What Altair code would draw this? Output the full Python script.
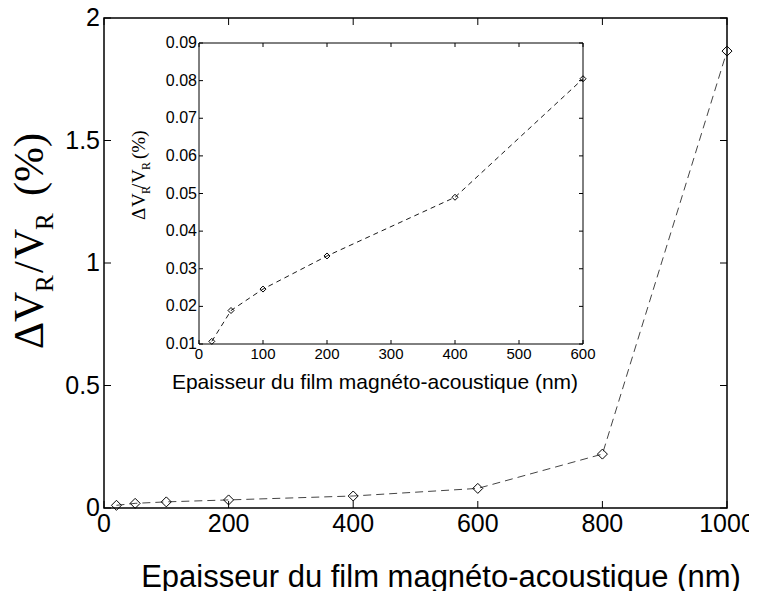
import altair as alt
import pandas as pd

# ---- data ----
thickness_main = [20, 50, 100, 200, 400, 600, 800, 1000]
dv_main = [0.011, 0.019, 0.025, 0.033, 0.049, 0.080, 0.22, 1.865]
thickness_inset = [20, 50, 100, 200, 400, 600]
dv_inset = [0.0107, 0.0189, 0.0246, 0.0334, 0.0490, 0.0805]
main_xticks = [0, 200, 400, 600, 800, 1000]
main_yticks = [0, 0.5, 1, 1.5, 2]
inset_xticks = [0, 100, 200, 300, 400, 500, 600]
inset_yticks = [0.01, 0.02, 0.03, 0.04, 0.05, 0.06, 0.07, 0.08, 0.09]
x_title = "Epaisseur du film magnéto-acoustique (nm)"

# ---- layout (pixels) ----
W, H = 623, 490
IX0, IX1, IY0, IY1 = 95, 479, 25, 326
SANS = "Liberation Sans"
SERIF = "Liberation Serif"

main_df = pd.DataFrame({"x": thickness_main, "y": dv_main})
inset_df = pd.DataFrame({"x": thickness_inset, "y": dv_inset})

mx = alt.Scale(domain=[0, 1000], nice=False, zero=False)
my = alt.Scale(domain=[0, 2], nice=False, zero=False)
ix = alt.Scale(domain=[0, 600], range=[IX0, IX1], nice=False, zero=False)
iy = alt.Scale(domain=[0.01, 0.09], range=[IY1, IY0], nice=False, zero=False)

one = pd.DataFrame({"a": [0]})


def seg(text, x, y, size):
    return alt.Chart(one).mark_text(
        text=text, angle=270, align="left", baseline="alphabetic",
        font=SERIF, fontSize=size, color="black"
    ).encode(x=alt.value(x), y=alt.value(y))


def label_text(x, y, size, **kw):
    return alt.Chart(one).mark_text(
        text=x_title, font=SANS, fontSize=size, color="black",
        align="center", baseline="middle", **kw
    ).encode(x=alt.value(x), y=alt.value(y))


tick_style = dict(color="black", strokeWidth=1)

# ---------------- main plot ----------------
main_line = alt.Chart(main_df).mark_line(
    color="#444444", strokeDash=[8, 5], strokeWidth=1
).encode(x=alt.X("x:Q", scale=mx, axis=None), y=alt.Y("y:Q", scale=my, axis=None))
main_pts = alt.Chart(main_df).mark_point(
    shape="diamond", filled=False, size=100, color="black", strokeWidth=1, opacity=1
).encode(x=alt.X("x:Q", scale=mx, axis=None), y=alt.Y("y:Q", scale=my, axis=None))

mxt = pd.DataFrame({"v": main_xticks})
myt = pd.DataFrame({"v": main_yticks})
main_ticks = [
    alt.Chart(mxt).mark_rule(**tick_style).encode(
        x=alt.X("v:Q", scale=mx, axis=None), y=alt.value(H), y2=alt.value(H - 7)),
    alt.Chart(mxt).mark_rule(**tick_style).encode(
        x=alt.X("v:Q", scale=mx, axis=None), y=alt.value(0), y2=alt.value(7)),
    alt.Chart(myt).mark_rule(**tick_style).encode(
        y=alt.Y("v:Q", scale=my, axis=None), x=alt.value(0), x2=alt.value(7)),
    alt.Chart(myt).mark_rule(**tick_style).encode(
        y=alt.Y("v:Q", scale=my, axis=None), x=alt.value(W), x2=alt.value(W - 7)),
]
main_labels = [
    alt.Chart(mxt).mark_text(font=SANS, fontSize=25, color="black",
                             align="center", baseline="top").encode(
        x=alt.X("v:Q", scale=mx, axis=None), y=alt.value(H + 4),
        text=alt.Text("v:Q", format="d")),
    alt.Chart(myt).mark_text(font=SANS, fontSize=25, color="black",
                             align="right", baseline="middle").encode(
        y=alt.Y("v:Q", scale=my, axis=None), x=alt.value(-4),
        text=alt.Text("v:Q", format="~g")),
]

main_title = [
    seg("Δ", -61, 331, 42),
    seg("V", -61, 304, 42),
    seg("R", -51, 274, 25),
    seg("/", -61, 255, 42),
    seg("V", -61, 241, 42),
    seg("R", -51, 212, 25),
    seg("(%)", -61, 178, 42),
]

main = alt.layer(main_line, main_pts, *main_ticks, *main_labels, *main_title,
                 label_text(337, 560, 31))

# ---------------- inset ----------------
frame = alt.Chart(one).mark_rect(
    fill="white", stroke="black", strokeWidth=1
).encode(
    x=alt.X("x0:Q", scale=ix, axis=None), x2=alt.X2("x1:Q"),
    y=alt.Y("y0:Q", scale=iy, axis=None), y2=alt.Y2("y1:Q"),
).transform_calculate(
    x0=str(inset_xticks[0]), x1=str(inset_xticks[-1]),
    y0=str(inset_yticks[0]), y1=str(inset_yticks[-1]),
)

inset_line = alt.Chart(inset_df).mark_line(
    color="black", strokeDash=[5, 4], strokeWidth=0.9
).encode(x=alt.X("x:Q", scale=ix, axis=None), y=alt.Y("y:Q", scale=iy, axis=None))
inset_pts = alt.Chart(inset_df).mark_point(
    shape="diamond", filled=False, size=36, color="black", strokeWidth=1, opacity=1
).encode(x=alt.X("x:Q", scale=ix, axis=None), y=alt.Y("y:Q", scale=iy, axis=None))

ixt = pd.DataFrame({"v": inset_xticks})
iyt = pd.DataFrame({"v": inset_yticks})
inset_ticks = [
    alt.Chart(ixt).mark_rule(**tick_style).encode(
        x=alt.X("v:Q", scale=ix, axis=None), y=alt.value(IY1), y2=alt.value(IY1 - 4)),
    alt.Chart(ixt).mark_rule(**tick_style).encode(
        x=alt.X("v:Q", scale=ix, axis=None), y=alt.value(IY0), y2=alt.value(IY0 + 4)),
    alt.Chart(iyt).mark_rule(**tick_style).encode(
        y=alt.Y("v:Q", scale=iy, axis=None), x=alt.value(IX0), x2=alt.value(IX0 + 4)),
    alt.Chart(iyt).mark_rule(**tick_style).encode(
        y=alt.Y("v:Q", scale=iy, axis=None), x=alt.value(IX1), x2=alt.value(IX1 - 4)),
]
inset_labels = [
    alt.Chart(ixt).mark_text(font=SANS, fontSize=15, color="black",
                             align="center", baseline="top").encode(
        x=alt.X("v:Q", scale=ix, axis=None), y=alt.value(IY1 + 3),
        text=alt.Text("v:Q", format="d")),
    alt.Chart(iyt).mark_text(font=SANS, fontSize=16, color="black",
                             align="right", baseline="middle").encode(
        y=alt.Y("v:Q", scale=iy, axis=None), x=alt.value(IX0 - 2),
        text=alt.Text("v:Q", format=".2f")),
]

inset_title = [
    seg("Δ", 41, 202, 19),
    seg("V", 41, 189, 19),
    seg("R", 46, 176, 12),
    seg("/", 41, 171, 19),
    seg("V", 41, 165, 19),
    seg("R", 46, 152, 12),
    seg("(%)", 41, 141, 19),
]

inset = alt.layer(frame, inset_line, inset_pts, *inset_ticks, *inset_labels,
                  *inset_title, label_text(271, 365, 21))

chart = alt.layer(main, inset).resolve_scale(
    x="independent", y="independent"
).properties(
    width=W, height=H,
    autosize=alt.AutoSizeParams(type="none"),
    padding={"left": 96, "top": 10, "right": 22, "bottom": 83},
    background="white",
).configure_view(stroke="black", strokeWidth=1.5)

chart.save("out.html", embed_options={"renderer": "svg", "actions": False})
